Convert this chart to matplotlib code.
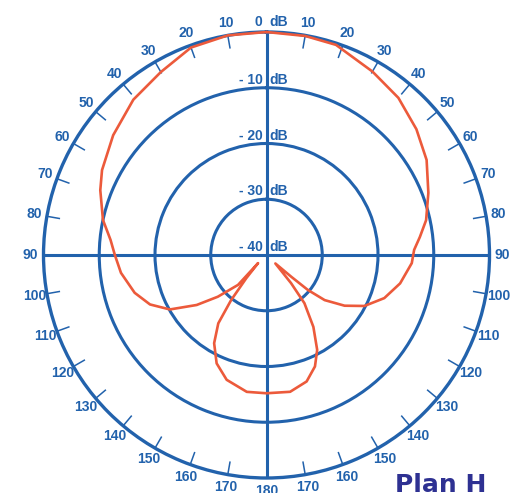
import numpy as np
import matplotlib.pyplot as plt

# Radiation pattern, horizontal plane (dB), angles clockwise from the top
# right half read 0 -> 180, left half read 0 -> 180 going anticlockwise
right_deg = [0, 10, 18.3, 30, 40, 50, 59.3, 69, 77.7, 83.3, 88, 93.2, 102, 110.1, 117.5, 123,
             127.8, 130.2, 131.3, 133.7, 138.9, 141.8, 146.9, 151.9, 156.5, 162.4, 170.2, 180]
right_db = [0, -0.1, -0.3, -2.0, -3.2, -4.9, -6.6, -8.9, -10.7, -12.3, -13.5, -13.9, -15.5, -17.5, -20.2, -23.3,
            -26.8, -30.3, -34.1, -37.8, -33.3, -29.0, -24.6, -20.7, -18.2, -16.2, -15.1, -15.2]

left_deg = [10, 20, 30, 40.6, 52, 62.7, 68.7, 77.9, 84.5, 90, 97, 106, 113, 119.4, 125.6,
            130.6, 136.4, 134, 138.9, 141.9, 144.8, 149.3, 155.3, 162.3, 171.8, 180]
left_db = [0, -0.4, -2.1, -3.3, -5.1, -6.8, -8.0, -10.0, -11.9, -12.8, -13.7, -15.4, -17.3, -20.1, -24.6,
           -28.5, -32.6, -37.9, -34.5, -29.7, -25.0, -21.6, -18.6, -16.5, -15.2, -15.2]

ring_levels = [0, -10, -20, -30, -40]
angle_labels = [10, 20, 30, 40, 50, 60, 70, 80, 90, 100, 110, 120, 130, 140, 150, 160, 170]

blue = '#2262ac'
red = '#ec5a3b'
navy = '#2e3192'

# build the closed curve: right side down, then left side back up
deg = right_deg + [360 - a for a in reversed(left_deg)] + [360]
db = right_db + list(reversed(left_db)) + [0]

fig = plt.figure(figsize=(5.29, 4.93), dpi=100)
W, H = 529, 493
cx, cy, R = 266.5, 255, 223
ax = fig.add_axes([(cx - R) / W, (H - cy - R) / H, 2 * R / W, 2 * R / H],
                  projection='polar')
ax.set_theta_zero_location('N')
ax.set_theta_direction(-1)
ax.set_ylim(-40, 0)
ax.patch.set_alpha(0)

# grid: cross lines + dB rings
ax.set_xticks(np.deg2rad([0, 90, 180, 270]))
ax.set_xticklabels([])
ax.set_yticks([-30, -20, -10])
ax.set_yticklabels([])
ax.grid(True, which='major', color=blue, linewidth=2.2)
ax.spines['polar'].set_color(blue)
ax.spines['polar'].set_linewidth(2.4)
ax.tick_params(length=0)

# small ticks every 10 degrees on the outer ring (pointing inwards)
tick_deg = [a for a in range(10, 360, 10) if a % 90 != 0]
ax.vlines(np.deg2rad(tick_deg), -2.4, 0, color=blue, linewidth=1.1)

ax.plot(np.deg2rad(deg), db, color=red, linewidth=1.9, zorder=5, clip_on=False,
        solid_joinstyle='round', solid_capstyle='round')

lab = dict(color=blue, fontsize=10, fontweight='bold', family=['Liberation Sans', 'DejaVu Sans'])

# dB ring labels along the vertical axis
for lv in ring_levels:
    num = '0' if lv == 0 else f'- {abs(lv)}'
    dy = 6 if lv == 0 else 4
    ax.annotate(num, xy=(0, lv), xytext=(-4, dy), textcoords='offset pixels',
                ha='right', va='baseline', annotation_clip=False, **lab)
    ax.annotate('dB', xy=(0, lv), xytext=(3, dy), textcoords='offset pixels',
                ha='left', va='baseline', annotation_clip=False, **lab)

# angle labels outside the outer ring
for a in angle_labels + [180]:
    ax.text(np.deg2rad(a), 2.3, str(a), ha='center', va='center', clip_on=False, **lab)
for a in angle_labels:
    ax.text(np.deg2rad(360 - a), 2.3, str(a), ha='center', va='center', clip_on=False, **lab)

fig.text(395 / W, 1.5 / H, 'Plan H', color=navy, fontsize=18, fontweight='bold',
         family='DejaVu Sans', ha='left', va='baseline')

fig.savefig('out.png', dpi=100)
